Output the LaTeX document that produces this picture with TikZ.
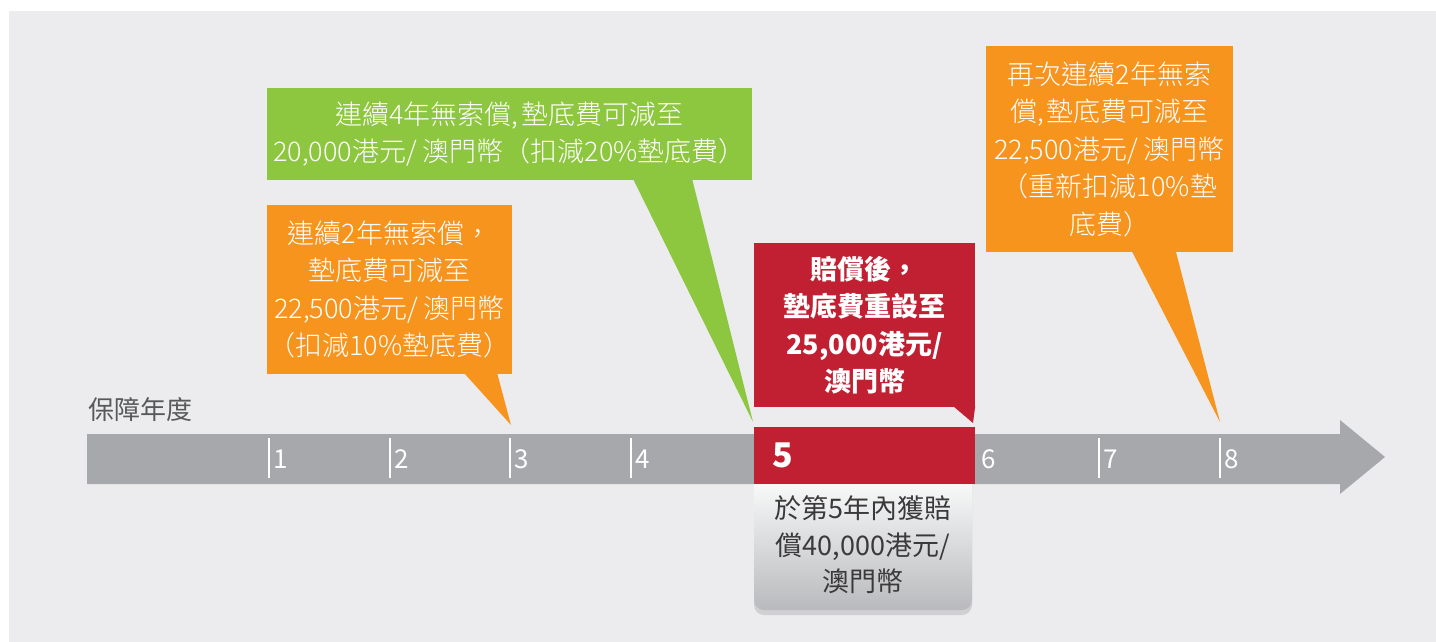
\documentclass[tikz,border=0pt]{standalone}
\usepackage{fontspec}
\setmainfont{Noto Sans CJK TC}
\IfFontExistsTF{Noto Sans CJK TC Light}
    {\newfontfamily\thinfont{Noto Sans CJK TC Light}}
    {\newfontfamily\thinfont{Noto Sans CJK TC}}
\usetikzlibrary{calc,positioning,shadows}
\definecolor{bggray}{HTML}{ECECEE}
\definecolor{axisgray}{HTML}{A7A8AB}
\definecolor{claimred}{HTML}{C11F32}
\definecolor{freegreen}{HTML}{8DC63F}
\definecolor{freeorange}{HTML}{F7941E}
\definecolor{labelgray}{HTML}{58595B}
\definecolor{textdark}{HTML}{3A3A3C}
\definecolor{shadegray}{HTML}{B9BABD}
\tikzset{bubble/.style={inner sep=0pt, align=center, text=white,
    font=\thinfont\fontsize{27}{37.5}\selectfont}}
\tikzset{year/.style={anchor=west, inner xsep=4pt, inner ysep=0pt, text=white,
    font=\fontsize{26}{26}\selectfont}}
\tikzset{tick/.style={draw=white, line width=1.5pt}}
\tikzset{claimbox/.style={minimum width=218pt, minimum height=140pt, inner sep=0pt,
    rounded corners=10pt, top color=white, middle color=white!90!shadegray,
    bottom color=shadegray,
    drop shadow={opacity=0.25, shadow xshift=0pt, shadow yshift=-5pt}}}
\begin{document}
\begin{tikzpicture}[x=1pt, y=-1pt]
    \useasboundingbox (0,0) rectangle (1436,642);
    \fill[white] (0,0) rectangle (1436,642);
    \fill[bggray] (9,11) rectangle (1436,642);
    % time axis
    \fill[axisgray] (87,434) -- (1340,434) -- (1340,420) -- (1385,457)
        -- (1340,494) -- (1340,484) -- (87,484) -- cycle;
    \node[anchor=west, inner sep=0pt, text=labelgray,
        font=\fontsize{26}{26}\selectfont] (axislabel) at (88,410) {保障年度};
    \node[year] (y1) at (269,459) {1};
    \node[year] (y2) at (390,459) {2};
    \node[year] (y3) at (510,459) {3};
    \node[year] (y4) at (631,459) {4};
    \node[year] (y6) at (977,459) {6};
    \node[year] (y7) at (1099,459) {7};
    \node[year] (y8) at (1220,459) {8};
    \draw[tick] ($(y1.west)+(0,-21)$) -- ($(y1.west)+(0,19)$);
    \draw[tick] ($(y2.west)+(0,-21)$) -- ($(y2.west)+(0,19)$);
    \draw[tick] ($(y3.west)+(0,-21)$) -- ($(y3.west)+(0,19)$);
    \draw[tick] ($(y4.west)+(0,-21)$) -- ($(y4.west)+(0,19)$);
    \draw[tick] ($(y7.west)+(0,-21)$) -- ($(y7.west)+(0,19)$);
    \draw[tick] ($(y8.west)+(0,-21)$) -- ($(y8.west)+(0,19)$);
    \coordinate (tip3) at (511,425);
    \coordinate (tip5) at (753,422);
    \coordinate (tip6) at (973,423);
    \coordinate (tip8) at (1220,422);
    % callout 1
    \node[bubble, fill=freeorange, minimum width=245pt, minimum height=169pt]
        (free2) at (389.5,289.5) {連續2年無索償，\\墊底費可減至\\22,500港元/ 澳門幣\\（扣減10\%墊底費）};
    \fill[freeorange] ($(free2.south east)+(-48,-1)$) -- ($(free2.south east)+(-15,-1)$) -- (tip3) -- cycle;
    % callout 2
    \node[bubble, fill=freegreen, minimum width=485pt, minimum height=92pt]
        (free4) at (509.5,134) {連續4年無索償,\kern3pt墊底費可減至\\20,000港元/ 澳門幣（扣減20\%墊底費）};
    \fill[freegreen] ($(free4.south east)+(-119,-1)$) -- ($(free4.south east)+(-60,-1)$) -- (tip5) -- cycle;
    % callout 3
    \node[bubble, fill=claimred, minimum width=221pt, minimum height=164pt,
        font=\fontsize{27}{37.5}\selectfont\bfseries]
        (reset) at (864.5,325) {賠償後，\\墊底費重設至\\25,000港元/\\澳門幣};
    \fill[claimred] ($(reset.south east)+(-22,-1)$) -- ($(reset.south east)+(0,-1)$) -- (tip6) -- cycle;
    % callout 4
    \node[bubble, fill=freeorange, minimum width=247pt, minimum height=206pt]
        (again2) at (1109.5,149) {再次連續2年無索\\償,\kern3pt墊底費可減至\\22,500港元/ 澳門幣\\（重新扣減10\%墊\\底費）};
    \fill[freeorange] ($(again2.south west)+(146,-1)$) -- ($(again2.south west)+(190,-1)$) -- (tip8) -- cycle;
    % year 5
    \node[claimbox] (claim) at (863,540) {};
    \node[align=center, inner sep=0pt, text=textdark,
        font=\fontsize{27}{36.5}\selectfont] (claimtext) at (863,545) {於第5年內獲賠\\償40,000港元/\\澳門幣};
    \node[fill=claimred, minimum width=221pt, minimum height=57pt, inner sep=0pt]
        (year5box) at (864.5,455.5) {};
    \node[inner sep=0pt, text=white, font=\fontsize{34}{34}\selectfont\bfseries]
        (y5) [right=18pt of year5box.west] {5};
\end{tikzpicture}
\end{document}
